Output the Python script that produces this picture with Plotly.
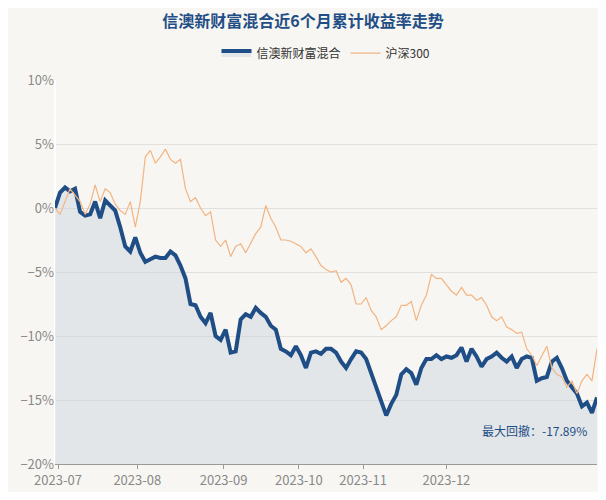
import plotly.graph_objects as go

fund = [0.0,1.2,1.6,1.3,1.5,-0.3,-0.6,-0.5,0.5,-0.8,0.6,0.2,-0.2,-1.5,-3.0,-3.4,-2.3,-3.5,-4.2,-4.0,
        -3.8,-3.9,-3.9,-3.4,-3.7,-4.5,-5.5,-7.5,-7.6,-8.5,-9.0,-8.2,-10.0,-10.3,-9.5,-11.3,-11.2,-8.7,-8.3,-8.5,
        -7.8,-8.2,-8.5,-9.2,-9.5,-11.0,-11.2,-11.5,-10.8,-11.5,-12.5,-11.3,-11.2,-11.4,-11.0,-11.0,-11.3,-12.0,-12.5,-11.8,
        -11.2,-11.3,-11.8,-12.9,-14.0,-15.0,-16.2,-15.3,-14.6,-13.0,-12.6,-12.9,-13.8,-12.5,-11.8,-11.8,-11.5,-11.8,-11.6,-11.7,
        -11.5,-10.9,-12.0,-11.0,-11.6,-12.4,-11.8,-11.6,-11.3,-11.7,-12.0,-11.6,-12.5,-11.8,-11.6,-11.7,-13.5,-13.3,-13.2,-12.0,
        -11.7,-12.5,-13.5,-14.0,-14.5,-15.5,-15.2,-16.0,-14.8]
hs300 = [0,-0.5,0.5,1.5,1.0,0.5,-0.5,0.3,1.8,0.5,1.5,1.2,0.3,-0.2,-0.5,0.5,-1.5,0.5,4.0,4.5,
         3.5,4.0,4.6,3.8,3.5,3.8,1.5,0.5,0.8,0.0,-0.6,-0.3,-2.5,-3.0,-2.5,-3.8,-3.0,-2.8,-3.5,-2.8,
         -2.0,-1.5,0.2,-0.8,-1.5,-2.5,-2.5,-2.6,-2.8,-3.0,-3.5,-3.2,-3.8,-4.5,-4.8,-5.0,-4.9,-5.8,-5.5,-6.0,
         -7.5,-7.5,-7.0,-8.0,-8.5,-9.5,-9.2,-8.8,-8.5,-7.6,-7.6,-7.3,-8.8,-7.6,-6.8,-5.2,-5.5,-5.5,-6.0,-6.5,
         -6.8,-6.2,-6.8,-6.8,-7.2,-7.0,-7.6,-8.5,-8.8,-8.5,-9.3,-9.5,-9.8,-9.7,-11.0,-11.5,-12.3,-11.5,-10.8,-12.5,
         -13.0,-13.2,-14.0,-13.5,-14.5,-13.5,-13.0,-13.5,-11.0]
n = min(len(fund), len(hs300))
fund = fund[:n]; hs300 = hs300[:n]
idx = list(range(n))
tick_pos = [0.6, 16.4, 33.6, 48.6, 61.4, 78.0]
tick_labels = ["2023-07", "2023-08", "2023-09", "2023-10", "2023-11", "2023-12"]
title = "<b>信澳新财富混合近6个月累计收益率走势</b>"
max_dd = "最大回撤：-17.89%"

fig = go.Figure()
fig.add_trace(go.Scatter(x=idx, y=[-20]*n, mode="lines", line=dict(width=0), showlegend=False, hoverinfo="skip"))
fig.add_trace(go.Scatter(x=idx, y=fund, name="信澳新财富混合", mode="lines",
                         line=dict(color="#1f4e86", width=4), fill="tonexty", fillcolor="rgba(200,210,220,0.45)"))
fig.add_trace(go.Scatter(x=idx, y=hs300, name="沪深300", mode="lines", line=dict(color="#f2b482", width=1.2)))
fig.add_annotation(x=0.985, xref="paper", xanchor="right", y=-17.4, yref="y", text=max_dd, showarrow=False,
                   font=dict(color="#1f4e86", size=12))
fig.update_layout(
    width=590, height=484, paper_bgcolor="#f8f6f2", plot_bgcolor="#f8f6f2",
    font=dict(family="Noto Sans CJK SC", color="#888"),
    title=dict(text=title, x=0.5, y=0.973, yanchor="middle", xanchor="center",
               font=dict(size=16, color="#1f4e86", family="Noto Sans CJK SC")),
    legend=dict(orientation="h", x=0.5, xanchor="center", y=1.07, yanchor="middle", traceorder="normal",
                font=dict(size=12, color="#333")),
    margin=dict(l=47, r=1, t=72, b=28),
    xaxis=dict(range=[0, n - 1], tickmode="array", tickvals=tick_pos, ticktext=tick_labels, automargin=False,
               showgrid=False, ticks="outside", ticklen=4, tickcolor="#999", showline=True, linecolor="#999",
               tickfont=dict(size=13, color="#888")),
    yaxis=dict(range=[-20, 10], dtick=5, ticksuffix="%", gridcolor="#e2e0dc", zeroline=False, automargin=False,
               tickfont=dict(size=13, color="#888")),
)
fig.write_html("out.html")
